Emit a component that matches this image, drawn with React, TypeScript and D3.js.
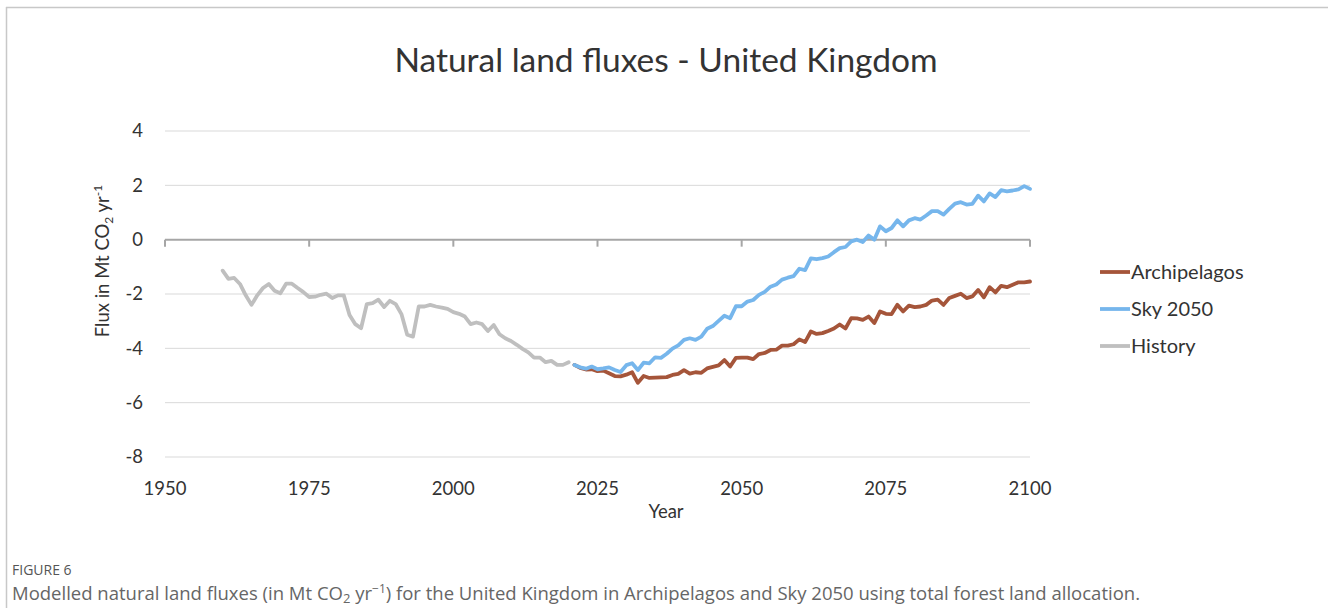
import React from "react";
import * as d3 from "d3";

const historyYears: number[] = d3.range(1960, 2021);
const historyValues: number[] = [
  -1.14, -1.44, -1.41, -1.63, -2.05, -2.40, -2.05, -1.78, -1.63, -1.88,
  -1.97, -1.62, -1.62, -1.78, -1.93, -2.11, -2.10, -2.03, -1.99, -2.15,
  -2.05, -2.05, -2.77, -3.11, -3.26, -2.37, -2.34, -2.21, -2.48, -2.25,
  -2.37, -2.74, -3.50, -3.57, -2.46, -2.46, -2.40, -2.46, -2.50, -2.55,
  -2.67, -2.73, -2.83, -3.11, -3.05, -3.11, -3.36, -3.14, -3.48, -3.63,
  -3.73, -3.87, -4.02, -4.15, -4.34, -4.34, -4.51, -4.46, -4.61, -4.61,
  -4.51,
];

const scenarioYears: number[] = d3.range(2021, 2101);
const archipelagosValues: number[] = [
  -4.61, -4.72, -4.78, -4.77, -4.84, -4.82, -4.92, -5.02, -5.03, -4.97,
  -4.88, -5.27, -5.02, -5.09, -5.08, -5.07, -5.06, -4.98, -4.94, -4.80,
  -4.93, -4.88, -4.90, -4.74, -4.68, -4.63, -4.43, -4.67, -4.35, -4.34,
  -4.34, -4.40, -4.21, -4.17, -4.06, -4.05, -3.90, -3.90, -3.85, -3.67,
  -3.77, -3.38, -3.47, -3.44, -3.36, -3.27, -3.12, -3.27, -2.89, -2.90,
  -2.95, -2.83, -3.07, -2.64, -2.73, -2.74, -2.40, -2.64, -2.43, -2.48,
  -2.46, -2.40, -2.24, -2.21, -2.40, -2.15, -2.07, -1.99, -2.15, -2.09,
  -1.85, -2.12, -1.75, -1.94, -1.70, -1.75, -1.66, -1.57, -1.57, -1.54,
];
const sky2050Values: number[] = [
  -4.61, -4.70, -4.75, -4.67, -4.77, -4.74, -4.70, -4.80, -4.87, -4.62,
  -4.55, -4.80, -4.53, -4.55, -4.33, -4.35, -4.20, -4.01, -3.89, -3.69,
  -3.63, -3.69, -3.57, -3.28, -3.18, -2.99, -2.80, -2.89, -2.45, -2.45,
  -2.28, -2.22, -2.03, -1.92, -1.73, -1.65, -1.47, -1.40, -1.34, -1.07,
  -1.12, -0.69, -0.72, -0.68, -0.62, -0.46, -0.31, -0.27, -0.06, 0.00,
  -0.09, 0.15, 0.00, 0.49, 0.31, 0.43, 0.71, 0.49, 0.71, 0.79,
  0.74, 0.89, 1.05, 1.05, 0.92, 1.13, 1.33, 1.38, 1.29, 1.32,
  1.62, 1.41, 1.70, 1.57, 1.82, 1.78, 1.81, 1.85, 1.97, 1.87,
];

const xTicks: number[] = [1950, 1975, 2000, 2025, 2050, 2075, 2100];
const yTicks: number[] = [4, 2, 0, -2, -4, -6, -8];

const seriesNames: string[] = ["Archipelagos", "Sky 2050", "History"];
const seriesColors: string[] = ["#A5553A", "#76B6EC", "#BFBFBF"];

const W = 1328;
const H = 608;
const FONT = "Lato, 'Open Sans', sans-serif";

export default function App() {
  const x = d3.scaleLinear().domain([1950, 2100]).range([165, 1030]);
  const y = d3.scaleLinear().domain([-8, 4]).range([457, 131]);

  const line = d3
    .line<[number, number]>()
    .x((d) => x(d[0]))
    .y((d) => y(d[1]));

  const series: [number, number][][] = [
    scenarioYears.map((yr, i) => [yr, archipelagosValues[i]] as [number, number]),
    scenarioYears.map((yr, i) => [yr, sky2050Values[i]] as [number, number]),
    historyYears.map((yr, i) => [yr, historyValues[i]] as [number, number]),
  ];
  const drawOrder = [2, 0, 1];

  return (
    <svg
      width={W}
      height={H}
      style={{ position: "absolute", left: 0, top: 0, background: "#fff" }}
    >
      <rect x={0} y={0} width={W} height={H} fill="#fff" />
      {/* frame */}
      <line x1={6} y1={7.5} x2={W} y2={7.5} stroke="#c8c8c8" strokeWidth={1.5} />
      <line x1={6.5} y1={7} x2={6.5} y2={H} stroke="#c8c8c8" strokeWidth={1.5} />

      {/* title */}
      <text
        x={666}
        y={72}
        textAnchor="middle"
        fontFamily={FONT}
        fontSize={33.5}
        fill="#333"
      >
        Natural land fluxes - United Kingdom
      </text>

      {/* gridlines */}
      {yTicks
        .filter((t) => t !== 0)
        .map((t) => (
          <line
            key={t}
            x1={x(1950)}
            x2={x(2100)}
            y1={y(t)}
            y2={y(t)}
            stroke="#d9d9d9"
            strokeWidth={1}
          />
        ))}
      {/* zero axis */}
      <line x1={x(1950)} x2={x(2100)} y1={y(0)} y2={y(0)} stroke="#a6a6a6" strokeWidth={2} />
      {xTicks.map((t) => (
        <line key={t} x1={x(t)} x2={x(t)} y1={y(0)} y2={y(0) + 7} stroke="#a6a6a6" strokeWidth={2} />
      ))}

      {/* y tick labels */}
      {yTicks.map((t) => (
        <text
          key={t}
          x={143}
          y={y(t)}
          dy="0.35em"
          textAnchor="end"
          fontFamily={FONT}
          fontSize={18.5}
          fill="#333"
        >
          {t}
        </text>
      ))}
      {/* x tick labels */}
      {xTicks.map((t) => (
        <text
          key={t}
          x={x(t)}
          y={489}
          dy="0.35em"
          textAnchor="middle"
          fontFamily={FONT}
          fontSize={18.5}
          fill="#333"
        >
          {t}
        </text>
      ))}
      <text x={666} y={512} dy="0.35em" textAnchor="middle" fontFamily={FONT} fontSize={18.5} fill="#333">
        Year
      </text>

      {/* y axis title */}
      <text
        transform={`translate(109, 261) rotate(-90)`}
        textAnchor="middle"
        fontFamily={FONT}
        fontSize={18.5}
        fill="#333"
      >
        Flux in Mt CO<tspan fontSize={12} dy={4}>2</tspan>
        <tspan dy={-4}> yr</tspan>
        <tspan fontSize={12} dy={-7}>-1</tspan>
      </text>

      {/* series */}
      {drawOrder.map((i) => (
        <path
          key={i}
          d={line(series[i]) || ""}
          fill="none"
          stroke={seriesColors[i]}
          strokeWidth={3.8}
          strokeLinejoin="round"
          strokeLinecap="round"
        />
      ))}

      {/* legend */}
      {seriesNames.map((name, i) => {
        const ly = 272 + i * 37;
        return (
          <g key={name}>
            <line x1={1100} x2={1130} y1={ly} y2={ly} stroke={seriesColors[i]} strokeWidth={3.8} />
            <text x={1131} y={ly} dy="0.35em" fontFamily={FONT} fontSize={20} fill="#333">
              {name}
            </text>
          </g>
        );
      })}

      {/* caption */}
      <text x={12} y={575} fontFamily="'Open Sans', sans-serif" fontSize={14} fill="#555">
        FIGURE 6
      </text>
      <text x={12} y={600} fontFamily="'Open Sans', sans-serif" fontSize={18.5} fill="#666">
        Modelled natural land fluxes (in Mt CO<tspan fontSize={13} dy={3}>2</tspan>
        <tspan dy={-3}> yr</tspan>
        <tspan fontSize={12} dy={-7}>−1</tspan>
        <tspan dy={7}>) for the United Kingdom in Archipelagos and Sky 2050 using total forest land allocation.</tspan>
      </text>
    </svg>
  );
}
